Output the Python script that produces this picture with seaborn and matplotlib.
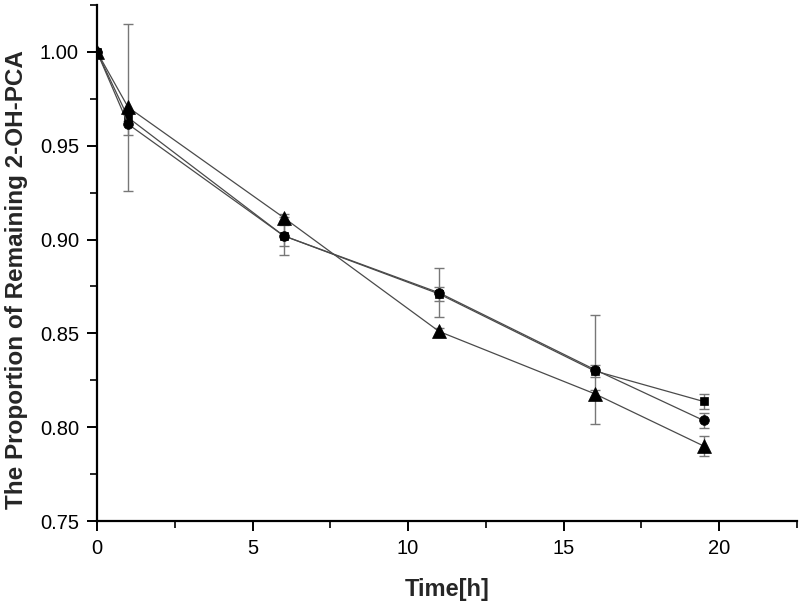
import numpy as np
import pandas as pd
import matplotlib
matplotlib.use("Agg")
import matplotlib.pyplot as plt
import seaborn as sns
from matplotlib.ticker import MultipleLocator, FormatStrFormatter

time_h = [0, 1, 6, 11, 16, 19.5]
series_names = ["Square", "Circle", "Triangle"]
square_vals = [1.000, 0.965, 0.902, 0.871, 0.830, 0.8137]
circle_vals = [1.000, 0.9615, 0.902, 0.8716, 0.8307, 0.8036]
triangle_vals = [1.000, 0.9705, 0.9117, 0.851, 0.8178, 0.790]
square_err = [0.0, 0.002, 0.0057, 0.0035, 0.003, 0.0038]
circle_err = [0.0, 0.006, 0.010, 0.013, 0.029, 0.0038]
triangle_err = [0.0, 0.0445, 0.002, 0.002, 0.002, 0.0055]
x_label = "Time[h]"
y_label = "The Proportion of Remaining 2-OH-PCA"

sns.set_theme(style="ticks")
plt.rcParams["font.family"] = ["Liberation Sans", "DejaVu Sans"]

fig = plt.figure(figsize=(7.99, 6.05), dpi=100)
ax = fig.add_axes([0.1214, 0.1388, 0.876, 0.853])

styles = {"Square": ("s", 5.5), "Circle": ("o", 7), "Triangle": ("^", 10)}
all_vals = {"Square": square_vals, "Circle": circle_vals, "Triangle": triangle_vals}
all_errs = {"Square": square_err, "Circle": circle_err, "Triangle": triangle_err}

for i, name in enumerate(series_names):
    vals, errs = all_vals[name], all_errs[name]
    ax.errorbar(time_h, vals, yerr=errs, fmt="none", ecolor="#777777",
                elinewidth=1.0, capsize=3.6, capthick=1.0, zorder=2 + i * 0.1)
for i, name in enumerate(series_names):
    df = pd.DataFrame({"time": time_h, "value": all_vals[name]})
    m, ms = styles[name]
    sns.lineplot(data=df, x="time", y="value", color="#4a4a4a", linewidth=0.9,
                 marker=m, markersize=ms, markerfacecolor="black",
                 markeredgecolor="black", markeredgewidth=0.5,
                 ax=ax, zorder=3 + i * 0.1)

ax.set_xlim(0, 22.5)
ax.set_ylim(0.75, 1.025)
ax.xaxis.set_major_locator(MultipleLocator(5))
ax.xaxis.set_minor_locator(MultipleLocator(2.5))
ax.yaxis.set_major_locator(MultipleLocator(0.05))
ax.yaxis.set_minor_locator(MultipleLocator(0.025))
ax.yaxis.set_major_formatter(FormatStrFormatter("%.2f"))

sns.despine(ax=ax)
for sp in ["left", "bottom"]:
    ax.spines[sp].set_linewidth(1.6)
    ax.spines[sp].set_color("black")
ax.tick_params(which="major", direction="out", length=7, width=1.4, colors="black", labelsize=14.5, pad=6)
ax.tick_params(which="minor", direction="out", length=5, width=1.2, colors="black")

ax.set_xlabel(x_label, fontsize=17, fontweight="bold", labelpad=14)
ax.set_ylabel(y_label, fontsize=17.5, fontweight="bold")
ax.yaxis.set_label_coords(-0.099, 0.467)
ax.grid(False)

fig.savefig("out.png", dpi=100)
